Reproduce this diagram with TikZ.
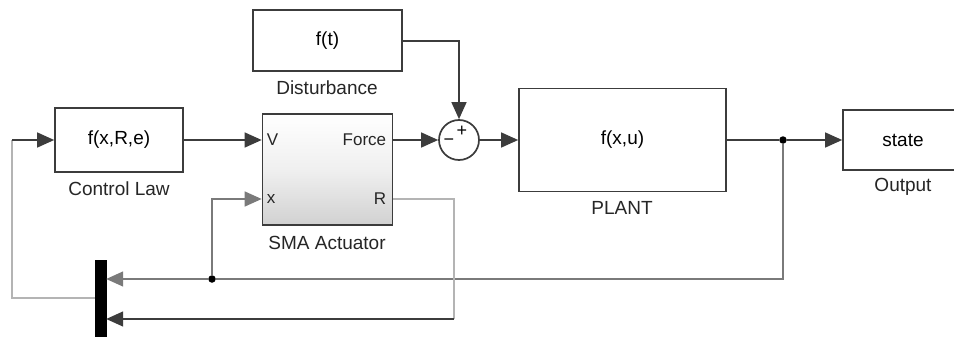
\documentclass[tikz,border=0pt]{standalone}
\usepackage{fontspec}
\setmainfont{Liberation Sans}
\usetikzlibrary{arrows.meta,calc}
\definecolor{linedark}{HTML}{3C3C3C}
\definecolor{linemid}{HTML}{7A7A7A}
\definecolor{linelight}{HTML}{B4B4B4}
\begin{document}
\begin{tikzpicture}[x=1pt,y=-1pt,
  blk/.style={draw=linedark,line width=1.7pt,fill=white,inner sep=0pt,font=\fontsize{19}{22}\selectfont},
  lbl/.style={font=\fontsize{19}{22}\selectfont,inner sep=0pt,text=black!85},
  port/.style={font=\fontsize{17}{20}\selectfont,inner sep=0pt,text=black!85},
  tipT/.tip={Triangle[length=17pt,width=15pt]},
  sig/.style={draw=linedark,line width=1.4pt},
  fbm/.style={draw=linemid,line width=1.4pt},
  fbl/.style={draw=linelight,line width=1.4pt},
  dotj/.style={circle,fill=black,inner sep=0pt,minimum size=7.5pt},
  sgn/.style={inner sep=0pt,font=\fontsize{18}{18}\selectfont}
]
\useasboundingbox (0,0) rectangle (954,337);
\fill[white] (0,0) rectangle (954,337);
\clip (0,0) rectangle (954,337);

% blocks
\node[blk,minimum width=128pt,minimum height=64pt] (cl) at (119,140) {f(x,R,e)};
\node[blk,minimum width=130pt,minimum height=111pt,top color=white,bottom color=black!18,middle color=black!6] (sma) at (327.5,169.5) {};
\node[blk,minimum width=149pt,minimum height=61pt] (dist) at (327.5,40.5) {f(t)};
\node[blk,circle,minimum size=40pt] (sum) at (459,140) {};
\node[blk,minimum width=207pt,minimum height=103pt] (plant) at (622.5,140) {f(x,u)};
\node[blk,minimum width=120pt,minimum height=60pt] (out) at (903,140) {state};
\node[fill=black,draw=black,inner sep=0pt,minimum width=11pt,minimum height=82pt] (mux) at (100.5,301) {};

% sum signs
\node[sgn] (plus) at ($(sum.center)+(3,-9)$) {+};
\node[sgn] (minus) at ($(sum.center)+(-10,2)$) {\textminus};

% block labels
\node[lbl] (cll) at (119,189) {Control Law};
\node[lbl] (smal) at (327,243) {SMA Actuator};
\node[lbl] (distl) at (327,88) {Disturbance};
\node[lbl] (plantl) at (622,208) {PLANT};
\node[lbl] (outl) at (903,187) {Output};

% port coordinates and labels
\coordinate (pV) at ($(sma.west)+(0,-29.5)$);
\coordinate (px) at ($(sma.west)+(0,29.5)$);
\coordinate (pF) at ($(sma.east)+(0,-29.5)$);
\coordinate (pR) at ($(sma.east)+(0,29.5)$);
\node[port,anchor=west] (lV) at ($(pV)+(5,0)$) {V};
\node[port,anchor=west] (lx) at ($(px)+(5,0)$) {x};
\node[port,anchor=east] (lF) at ($(pF)+(-7,0)$) {Force};
\node[port,anchor=east] (lR) at ($(pR)+(-7,0)$) {R};

% junctions
\node[dotj] (j1) at (783,140) {};
\node[dotj] (j2) at (212,279) {};
\coordinate (c1) at (12,140);
\coordinate (c2) at (12,298);
\coordinate (c3) at (459,41);
\coordinate (c4) at (454,199);
\coordinate (c5) at (454,319);
\coordinate (c6) at (783,279);
\coordinate (c7) at (212,199);

% forward signals
\draw[sig,-tipT] (cl.east) -- (pV);
\draw[sig,-tipT] (pF) -- (sum.west);
\draw[sig,-tipT] (dist.east |- c3) -- (c3) -- (sum.north);
\draw[sig,-tipT] (sum.east) -- (plant.west);
\draw[sig] (plant.east) -- (j1);
\draw[sig,-tipT] (j1) -- (out.west);

% feedback
\draw[fbm] (j1) -- (c6) -- (j2);
\draw[fbm,-tipT] (j2) -- (j2 -| mux.east);
\draw[fbm,-tipT] (j2) -- (c7) -- (px);
\draw[fbl] (pR) -- (c4) -- (c5);
\draw[linedark,line width=1.4pt,-tipT] (c5) -- (c5 -| mux.east);
\draw[fbl] (mux.west |- c2) -- (c2) -- (c1);
\draw[sig,-tipT] (c1) -- (cl.west);
\end{tikzpicture}
\end{document}
